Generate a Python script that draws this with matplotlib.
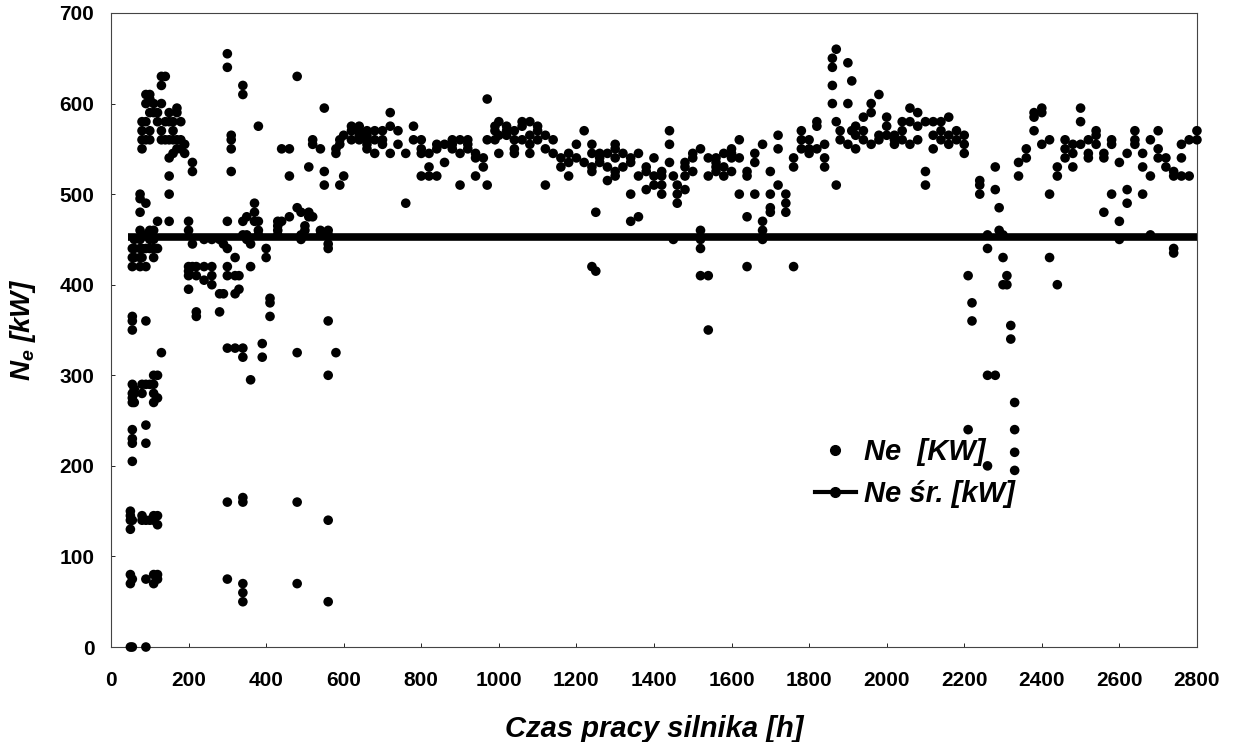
import matplotlib
matplotlib.use("Agg")
import matplotlib.pyplot as plt
from matplotlib.lines import Line2D

# ---- data ----
sample_hours = [50, 55, 60, 75, 80, 90, 100, 110, 120, 130, 140, 150, 160, 170, 180, 190,
                200, 210, 220, 240, 260, 280, 290, 300, 310, 320, 330, 340, 350, 360, 370,
                380, 390, 400, 410, 430, 440, 460, 480, 490, 500, 510, 520, 540, 550, 560,
                580, 590, 600, 620, 640, 660, 680, 700, 720, 740, 760, 780, 800, 820, 840,
                860, 880, 900, 920, 940, 960, 970, 990, 1000, 1020, 1040, 1060, 1080, 1100,
                1120, 1140, 1160, 1180, 1200, 1220, 1240, 1250, 1260, 1280, 1300, 1320, 1340,
                1360, 1380, 1400, 1420, 1440, 1450, 1460, 1480, 1500, 1520, 1540, 1560, 1580,
                1600, 1620, 1640, 1660, 1680, 1700, 1720, 1740, 1760, 1780, 1800, 1820, 1840,
                1860, 1870, 1880, 1900, 1910, 1920, 1940, 1960, 1980, 2000, 2020, 2040, 2060,
                2080, 2100, 2120, 2140, 2160, 2180, 2200, 2210, 2220, 2240, 2260, 2280, 2290,
                2300, 2310, 2320, 2330, 2340, 2360, 2380, 2400, 2420, 2440, 2460, 2480, 2500,
                2520, 2540, 2560, 2580, 2600, 2620, 2640, 2660, 2680, 2700, 2720, 2740, 2760,
                2780, 2800]

power_at_hour = [
    [0, 70, 80, 130, 140, 145, 150],
    [0, 75, 140, 205, 225, 230, 240, 270, 275, 280, 290, 350, 360, 365, 420, 430, 440],
    [270, 280, 285, 430, 440, 450],
    [480, 495, 500, 420, 430, 440, 450, 460],
    [550, 560, 570, 580, 430, 440, 280, 290, 140, 145],
    [0, 75, 140, 225, 245, 290, 360, 420, 440, 455, 490, 560, 580, 600, 610],
    [140, 290, 440, 450, 460, 560, 570, 590, 605, 610],
    [70, 80, 140, 145, 270, 280, 290, 300, 430, 440, 450, 460, 590, 600],
    [75, 80, 135, 145, 275, 300, 440, 470, 580, 590],
    [325, 600, 620, 630, 570, 560],
    [630, 580, 560],
    [470, 500, 520, 540, 560, 580, 590],
    [570, 580, 560, 545],
    [560, 590, 595, 550],
    [560, 550, 580],
    [555, 545],
    [470, 460, 420, 410, 415, 395],
    [420, 445, 535, 525],
    [365, 370, 410, 420],
    [420, 405, 450],
    [420, 400, 450, 410],
    [390, 370, 450],
    [390, 445],
    [655, 640, 470, 440, 420, 410, 330, 160, 75],
    [565, 550, 560, 525],
    [430, 390, 330, 410],
    [410, 395],
    [620, 610, 330, 320, 165, 160, 70, 60, 50, 470, 455],
    [450, 455, 475],
    [295, 420, 445],
    [490, 480, 470],
    [455, 460, 470, 575],
    [335, 320],
    [440, 430],
    [385, 380, 365],
    [455, 460, 465, 470],
    [470, 550],
    [550, 520, 475],
    [485, 325, 160, 70, 630],
    [480, 455, 450],
    [460, 465],
    [475, 480, 530],
    [555, 560, 475],
    [550, 460, 455],
    [510, 525, 595],
    [360, 300, 140, 50, 460, 455, 445, 440],
    [325, 545, 550],
    [510, 555, 560],
    [520, 565],
    [575, 570, 560],
    [575, 570, 560, 565],
    [560, 570, 565, 555, 550],
    [545, 560, 570],
    [570, 560, 555],
    [590, 575, 545],
    [570, 555],
    [490, 545],
    [560, 575],
    [545, 550, 560, 520],
    [530, 520, 545],
    [550, 555, 520],
    [555, 535],
    [555, 550, 560],
    [510, 545, 560],
    [555, 550, 560],
    [520, 540, 545],
    [540, 530],
    [605, 510, 560],
    [560, 570, 575],
    [580, 565, 545],
    [570, 575, 565],
    [545, 550, 560, 570],
    [560, 575, 580],
    [580, 565, 555, 545],
    [560, 575, 570],
    [550, 510, 565],
    [560, 545],
    [540, 530],
    [535, 545, 520],
    [540, 555],
    [535, 570],
    [420, 530, 525, 545, 555],
    [415, 480],
    [545, 535, 540],
    [530, 515, 545],
    [540, 555, 550, 520, 525],
    [545, 530],
    [500, 470, 535, 540],
    [520, 545, 475],
    [505, 525, 530],
    [510, 520, 540],
    [500, 525, 520, 510],
    [570, 555, 535],
    [450, 520],
    [510, 500, 490],
    [520, 530, 505, 535],
    [545, 540, 525],
    [460, 450, 410, 440, 550],
    [410, 350, 540, 520],
    [535, 540, 530, 525],
    [530, 545, 520],
    [550, 545, 540, 525],
    [560, 540, 500],
    [525, 520, 420, 475],
    [535, 545, 500],
    [460, 470, 450, 555],
    [480, 485, 500, 525],
    [565, 550, 510],
    [480, 500, 490],
    [420, 530, 540],
    [560, 570, 550],
    [545, 550, 560],
    [580, 575, 550],
    [555, 540, 530],
    [640, 650, 620, 600],
    [660, 580, 510],
    [570, 560],
    [645, 600, 555],
    [625, 570],
    [575, 565, 550],
    [570, 560, 585],
    [600, 590, 555],
    [610, 560, 565],
    [575, 585, 565],
    [560, 555, 565],
    [570, 560, 580],
    [595, 580, 555],
    [590, 560, 575],
    [525, 510, 580],
    [580, 565, 550],
    [570, 580, 560],
    [585, 565, 555],
    [570, 560],
    [555, 545, 565],
    [240, 410],
    [380, 360],
    [515, 500, 510],
    [455, 440, 300, 200],
    [300, 530, 505],
    [485, 460],
    [455, 430, 400],
    [410, 400],
    [340, 355],
    [270, 240, 215, 195],
    [520, 535],
    [540, 550],
    [585, 590, 570],
    [595, 590, 555],
    [430, 500, 560],
    [400, 520, 530],
    [540, 550, 560],
    [545, 555, 530],
    [595, 580, 555],
    [560, 545, 540],
    [570, 555, 565],
    [480, 540, 545],
    [500, 555, 560],
    [470, 450, 535],
    [490, 505, 545],
    [570, 555, 560],
    [545, 530, 500],
    [455, 520, 560],
    [570, 540, 550],
    [540, 530],
    [525, 520, 440, 435],
    [540, 520, 555],
    [520, 560],
    [570, 560],
]

mean_power = 453
mean_line_hours = [45, 2800]

x_ticks = list(range(0, 2801, 200))
y_ticks = list(range(0, 701, 100))

hours = [h for h, vals in zip(sample_hours, power_at_hour) for _ in vals]
power = [v for vals in power_at_hour for v in vals]

plt.rcParams['font.family'] = ['Liberation Sans', 'DejaVu Sans']
plt.rcParams['mathtext.fontset'] = 'custom'
plt.rcParams['mathtext.it'] = 'Liberation Sans:bold:italic'
plt.rcParams['mathtext.rm'] = 'Liberation Sans:bold:italic'
plt.rcParams['mathtext.bf'] = 'Liberation Sans:bold:italic'

fig = plt.figure(figsize=(12.36, 7.42), dpi=100)
ax = fig.add_axes([0.0898, 0.128, 0.8786, 0.8545])

ax.plot(mean_line_hours, [mean_power] * len(mean_line_hours), color='black',
        linewidth=5.5, solid_capstyle='butt', zorder=2)
ax.scatter(hours, power, s=48, color='black', edgecolors='none', zorder=3, clip_on=False)

ax.set_xlim(0, 2800)
ax.set_ylim(0, 700)
ax.set_xticks(x_ticks)
ax.set_yticks(y_ticks)
for lab in ax.get_xticklabels() + ax.get_yticklabels():
    lab.set_fontweight('bold')
    lab.set_fontsize(15)
ax.tick_params(axis='both', direction='in', length=3, width=0.6)
ax.tick_params(axis='x', pad=17)
ax.tick_params(axis='y', pad=12)

for sp in ax.spines.values():
    sp.set_linewidth(0.8)
    sp.set_color('#444444')

ax.set_xlabel('Czas pracy silnika [h]', fontsize=21, fontweight='bold',
              fontstyle='italic', labelpad=18)
ax.set_ylabel(r'$N_e$ [kW]', fontsize=20, fontweight='bold',
              fontstyle='italic', labelpad=15)

handles = [
    Line2D([], [], linestyle='none', marker='o', markersize=7, color='black'),
    Line2D([], [], linestyle='-', linewidth=3, marker='o', markersize=7, color='black'),
]
leg = ax.legend(handles, ['Ne  [KW]', 'Ne śr. [kW]'], loc='upper left',
                bbox_to_anchor=(0.648, 0.33), frameon=False, handlelength=1.4,
                handletextpad=0.3, labelspacing=0.5, borderpad=0, borderaxespad=0,
                prop={'size': 21, 'weight': 'bold', 'style': 'italic'})

fig.savefig('out.png', dpi=100)
